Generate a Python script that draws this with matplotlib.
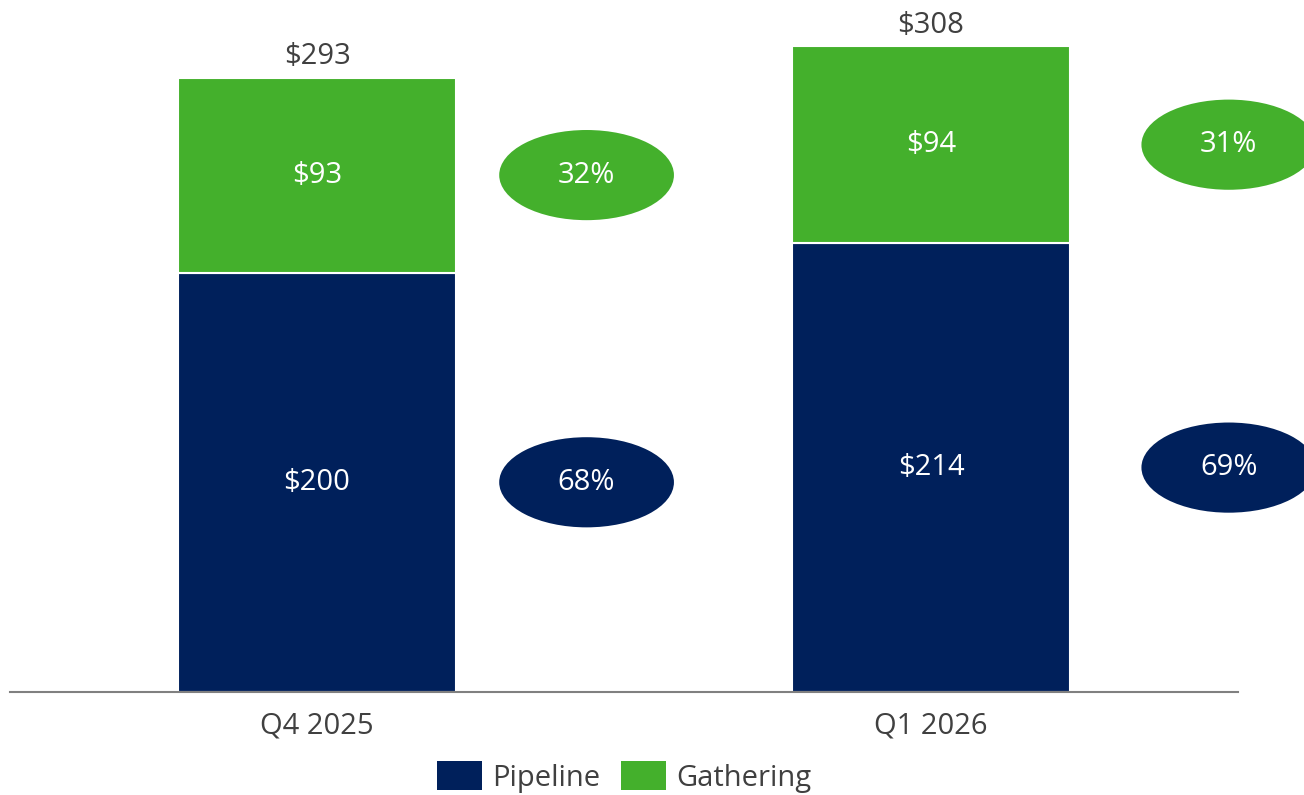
import matplotlib
matplotlib.use("Agg")
import matplotlib.pyplot as plt
from matplotlib.patches import Ellipse, Patch

plt.rcParams['font.family'] = ['Open Sans', 'DejaVu Sans']

categories = ["Q4 2025", "Q1 2026"]
pipeline = [200, 214]
gathering = [93, 94]
totals = [293, 308]
pipeline_pct = ["68%", "69%"]
gathering_pct = ["32%", "31%"]

navy = "#00205B"
green = "#44B02C"
grey = "#404040"

fig = plt.figure(figsize=(13.04, 7.95), dpi=100)
ax = fig.add_axes([0.0077, 0.1296, 0.9417, 0.8704])

x = list(range(len(categories)))
w = 0.452
ax.bar(x, pipeline, width=w, color=navy, edgecolor="white", linewidth=1.5, label="Pipeline")
ax.bar(x, gathering, width=w, bottom=pipeline, color=green, edgecolor="white", linewidth=1.5,
       label="Gathering")

# bubble offsets from bar centre
bubble_dx = [0.439, 0.485]
fs = 21
for i in x:
    p, g = pipeline[i], gathering[i]
    ax.text(i, p / 2, f"${p}", ha="center", va="center", color="white", fontsize=fs)
    ax.text(i, p + g / 2, f"${g}", ha="center", va="center", color="white", fontsize=fs)
    ax.text(i, totals[i] + 3, f"${totals[i]}", ha="center", va="bottom", color=grey, fontsize=fs)

    bx = i + bubble_dx[i]
    for yc, col, txt in [(p / 2, navy, pipeline_pct[i]), (p + g / 2, green, gathering_pct[i])]:
        e = Ellipse((bx, yc), 0.2846, 43, facecolor=col, edgecolor="none", clip_on=False)
        ax.add_patch(e)
        ax.text(bx, yc, txt, ha="center", va="center", color="white", fontsize=fs, clip_on=False)

ax.set_xlim(-0.5, 1.5)
ax.set_ylim(0, 330)
ax.set_xticks(x)
ax.set_xticklabels(categories, fontsize=fs, color=grey)
ax.tick_params(axis="x", length=0, pad=14)
ax.set_yticks([])
for s in ["top", "right", "left"]:
    ax.spines[s].set_visible(False)
ax.spines["bottom"].set_color("#808080")
ax.spines["bottom"].set_linewidth(1.5)

handles = [Patch(facecolor=navy), Patch(facecolor=green)]
leg = fig.legend(handles, ["Pipeline", "Gathering"], loc="lower center",
                 bbox_to_anchor=(0.4785, -0.03), ncol=2, frameon=False, fontsize=fs,
                 handlelength=1.55, handleheight=1.15, handletextpad=0.35, columnspacing=0.7)
for t in leg.get_texts():
    t.set_color(grey)

fig.savefig("out.png", dpi=100)
